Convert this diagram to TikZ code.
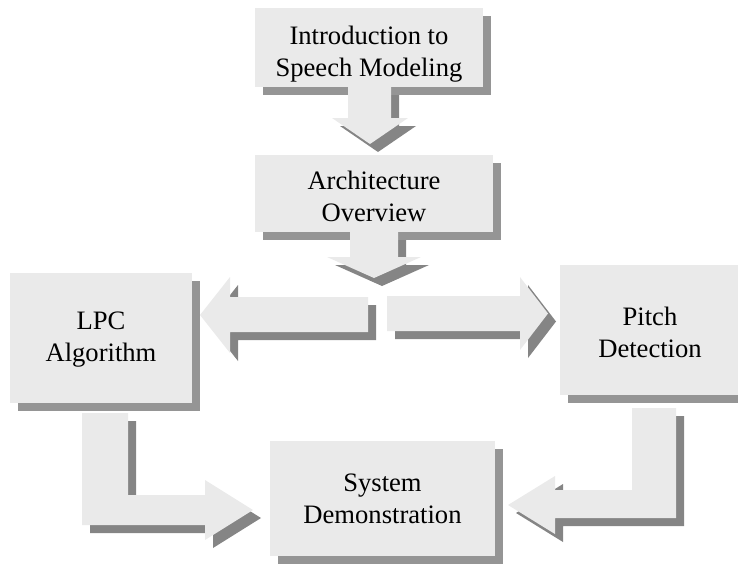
\documentclass[tikz,border=0pt]{standalone}
\usepackage{fontspec}
\setmainfont{Liberation Serif}
\usetikzlibrary{shadows}

\definecolor{panel}{HTML}{EAEAEA}
\definecolor{boxshade}{HTML}{959595}
\definecolor{arrowshade}{HTML}{858585}

\tikzset{
  stagebox/.style={
    fill=panel, draw=none, inner sep=0pt,
    drop shadow={shadow xshift=8pt, shadow yshift=-8pt, fill=boxshade, opacity=1}
  },
  stagetext/.style={
    inner sep=0pt, align=center,
    font=\fontsize{26.6}{32}\selectfont
  },
  arrowbody/.style={fill=panel},
  arrowshadow/.style={fill=arrowshade, shift={(8,8)}}
}

% block arrow: shadow copy shifted down-right, then the light body
\newcommand\blockarrow[1]{%
  \fill[arrowshadow] #1;
  \fill[arrowbody] #1;
}

\begin{document}
\begin{tikzpicture}[x=1pt, y=-1pt]
\useasboundingbox (0,0) rectangle (738,563);
\begin{scope}
\clip (0,0) rectangle (738,563);

% stages
\node[stagebox, minimum width=228pt, minimum height=79pt] (intro) at (369,47.5) {};
\node[stagebox, minimum width=238pt, minimum height=77pt] (arch) at (374,193.5) {};
\node[stagebox, minimum width=182pt, minimum height=130pt] (lpc) at (101,338) {};
\node[stagebox, minimum width=180pt, minimum height=130pt] (pitch) at (650,330) {};
\node[stagebox, minimum width=225pt, minimum height=115pt] (demo) at (382.5,498.5) {};

% stage titles
\node[stagetext] (intro-text) at ([yshift=-7pt]intro.center) {Introduction to\\Speech Modeling};
\node[stagetext] (arch-text) at ([yshift=-3pt]arch.center) {Architecture\\Overview};
\node[stagetext] (lpc-text) at ([yshift=-2pt]lpc.center) {LPC\\Algorithm};
\node[stagetext] (pitch-text) at ([yshift=-2pt]pitch.center) {Pitch\\Detection};
\node[stagetext] (demo-text) at (demo.center) {System\\Demonstration};

% intro -> architecture
\blockarrow{(348,87) -- (391,87) -- (391,118) -- (408,118) -- (370,144) -- (332,118) -- (348,118) -- cycle}

% architecture -> split
\blockarrow{(350,232) -- (398,232) -- (398,257) -- (421,257) -- (374,278) -- (327,257) -- (350,257) -- cycle}

% split -> LPC
\blockarrow{(368,297) -- (368,332) -- (230,332) -- (230,353) -- (200,315) -- (230,277) -- (230,297) -- cycle}

% split -> pitch
\blockarrow{(387,296) -- (520,296) -- (520,277) -- (548,313.5) -- (520,350) -- (520,331) -- (387,331) -- cycle}

% LPC -> demonstration
\blockarrow{(82,413) -- (128,413) -- (128,495) -- (205,495) -- (205,480) -- (253,510) -- (205,540) -- (205,525) -- (82,525) -- cycle}

% pitch -> demonstration
\blockarrow{(632,408) -- (676,408) -- (676,518) -- (555,518) -- (555,534) -- (508,505) -- (555,476) -- (555,490) -- (632,490) -- cycle}

\end{scope}
\end{tikzpicture}
\end{document}
